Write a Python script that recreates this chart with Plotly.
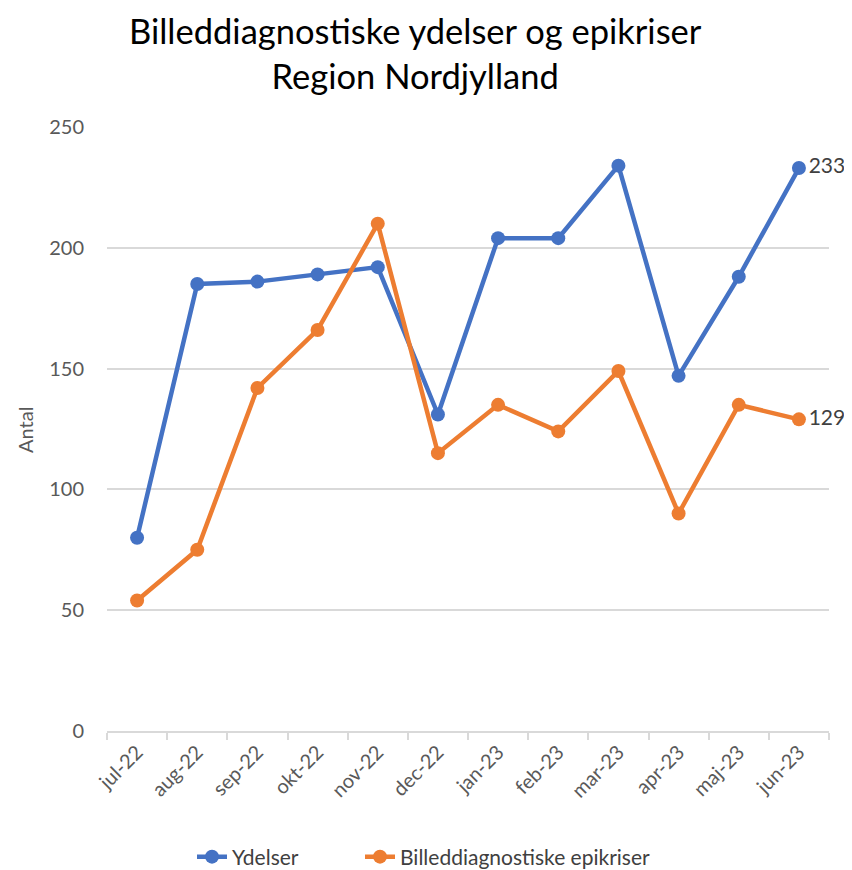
import plotly.graph_objects as go

months = ["jul-22", "aug-22", "sep-22", "okt-22", "nov-22", "dec-22",
          "jan-23", "feb-23", "mar-23", "apr-23", "maj-23", "jun-23"]
ydelser = [80, 185, 186, 189, 192, 131, 204, 204, 234, 147, 188, 233]
epikriser = [54, 75, 142, 166, 210, 115, 135, 124, 149, 90, 135, 129]

BLUE = "#4472C4"
ORANGE = "#ED7D31"
FONT = "Lato, 'Open Sans', sans-serif"

# page body adds an 8px offset; compensate
OFF = 8
L, T = 107 - OFF, 127 - OFF
W, H = 852, 870
PW, PH = 722, 604
R = W - L - PW
B = H - T - PH


def sy(y_screen):
    """screen y (px) -> paper y"""
    return (T + PH - (y_screen - OFF)) / PH


def sx(x_screen):
    """screen x (px) -> paper x"""
    return ((x_screen - OFF) - L) / PW


def last_label(vals):
    return [""] * (len(vals) - 1) + [str(vals[-1])]


fig = go.Figure()
fig.add_trace(go.Scatter(
    x=months, y=ydelser, name="Ydelser", mode="lines+markers+text",
    line=dict(color=BLUE, width=4.5), marker=dict(size=14, color=BLUE),
    text=last_label(ydelser), textposition="middle right",
    textfont=dict(size=21, color="#404040"), cliponaxis=False,
    legend="legend",
))
fig.add_trace(go.Scatter(
    x=months, y=epikriser, name="Billeddiagnostiske epikriser", mode="lines+markers+text",
    line=dict(color=ORANGE, width=4.5), marker=dict(size=14, color=ORANGE),
    text=last_label(epikriser), textposition="middle right",
    textfont=dict(size=21, color="#404040"), cliponaxis=False,
    legend="legend2",
))

legend_common = dict(orientation="h", xanchor="left", xref="paper",
                     yanchor="middle", yref="paper", y=sy(857),
                     font=dict(size=21, color="#404040"))

fig.update_layout(
    width=W, height=H,
    paper_bgcolor="white", plot_bgcolor="white",
    font=dict(family=FONT, color="#595959", size=20),
    margin=dict(l=L, r=R, t=T, b=B, autoexpand=False),
    showlegend=True,
    legend=dict(x=sx(192), **legend_common),
    legend2=dict(x=sx(360), **legend_common),
    annotations=[
        dict(text="Billeddiagnostiske ydelser og epikriser<br>Region Nordjylland",
             xref="paper", yref="paper", x=sx(415), y=sy(8),
             xanchor="center", yanchor="top", showarrow=False,
             font=dict(size=34.5, color="black", family=FONT)),
        dict(text="Antal", xref="paper", yref="paper",
             x=sx(25), y=sy(430),
             xanchor="center", yanchor="middle", textangle=-90, showarrow=False,
             font=dict(size=20, color="#595959", family=FONT)),
    ],
)
fig.update_xaxes(
    type="category", range=[-0.5, 11.5], tickangle=-45, tickson="boundaries",
    ticks="outside", ticklen=7, tickcolor="#D9D9D9", tickwidth=1.5,
    showline=True, linecolor="#D9D9D9", linewidth=1.5,
    showgrid=False, tickfont=dict(size=20, color="#595959"),
    automargin=False,
)
fig.update_yaxes(
    range=[0, 250], dtick=50, showgrid=True, gridcolor="#D9D9D9", gridwidth=1.5,
    zeroline=False, showline=False, ticks="", ticklabelstandoff=22,
    tickfont=dict(size=20, color="#595959"), automargin=False,
)

fig.write_html("out.html")
